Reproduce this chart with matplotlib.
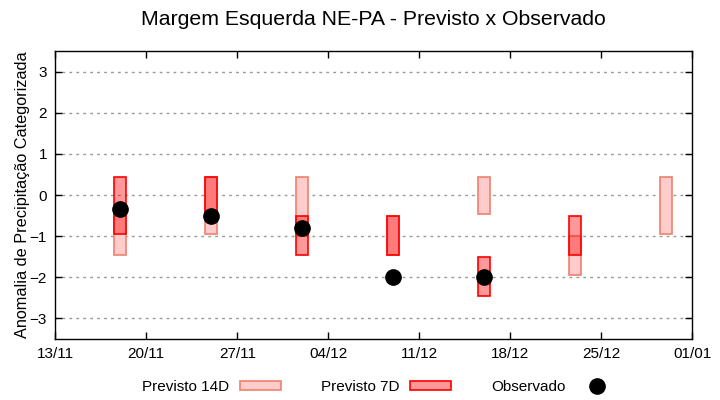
import matplotlib
matplotlib.use("Agg")
import matplotlib.pyplot as plt
import matplotlib.dates as mdates
from datetime import datetime

plt.rcParams['font.family'] = ['Liberation Sans', 'DejaVu Sans']

dates = ["2023-11-18", "2023-11-25", "2023-12-02", "2023-12-09",
         "2023-12-16", "2023-12-23", "2023-12-30"]
prev14_low = [-1.45, -0.95, -1.0, -1.45, -0.45, -1.95, -0.95]
prev14_high = [-0.5, 0.45, 0.45, -0.5, 0.45, -1.0, 0.45]
prev7_low = [-0.95, -0.5, -1.45, -1.45, -2.45, -1.45, None]
prev7_high = [0.45, 0.45, -0.5, -0.5, -1.5, -0.5, None]
obs = [-0.35, -0.5, -0.8, -2.0, -2.0, None, None]
tick_dates = ["2023-11-13", "2023-11-20", "2023-11-27", "2023-12-04",
              "2023-12-11", "2023-12-18", "2023-12-25", "2024-01-01"]
tick_labels = ["13/11", "20/11", "27/11", "04/12", "11/12", "18/12", "25/12", "01/01"]

x = [mdates.date2num(datetime.strptime(d, "%Y-%m-%d")) for d in dates]
xt = [mdates.date2num(datetime.strptime(d, "%Y-%m-%d")) for d in tick_dates]

fig = plt.figure(figsize=(7.2, 4.0), dpi=100)
ax = fig.add_axes([0.0768, 0.1525, 0.8847, 0.7195])

w = 0.92
b14 = ax.bar(x, [h - l for h, l in zip(prev14_high, prev14_low)], bottom=prev14_low,
             width=w, facecolor='#ffcccc', edgecolor='#f08070', linewidth=1.2,
             label='Previsto 14D', zorder=2)
x7 = [xi for xi, v in zip(x, prev7_low) if v is not None]
l7 = [v for v in prev7_low if v is not None]
h7 = [v for v in prev7_high if v is not None]
b7 = ax.bar(x7, [h - l for h, l in zip(h7, l7)], bottom=l7, width=w,
            facecolor=(1, 0, 0, 0.4), edgecolor='red', linewidth=1.2,
            label='Previsto 7D', zorder=3)
xo = [xi for xi, v in zip(x, obs) if v is not None]
yo = [v for v in obs if v is not None]
po, = ax.plot(xo, yo, 'o', color='black', markersize=11, linestyle='none',
              label='Observado', zorder=4)

ax.set_xlim(xt[0], xt[-1])
ax.set_ylim(-3.5, 3.5)
ax.set_xticks(xt)
ax.set_xticklabels(tick_labels)
ax.set_yticks([-3, -2, -1, 0, 1, 2, 3])
ax.tick_params(direction='in', top=True, right=True, length=5, width=1,
               labelsize=11, colors='black', pad=6)
ax.tick_params(axis='x', labeltop=False)
ax.yaxis.grid(True, linestyle=(0, (2, 3)), color='#999999', linewidth=1)
ax.set_axisbelow(True)
for s in ax.spines.values():
    s.set_linewidth(1)

ax.set_ylabel('Anomalia de Precipitação Categorizada', fontsize=11.7, labelpad=0)
fig.suptitle('Margem Esquerda NE-PA - Previsto x Observado', fontsize=15.3,
             x=0.518, y=0.975)

fig.legend([b14, b7, po], ['Previsto 14D', 'Previsto 7D', 'Observado'],
           loc='lower center', bbox_to_anchor=(0.5275, -0.02), ncol=3,
           frameon=False, markerfirst=False, fontsize=11,
           handlelength=2.7, handleheight=0.5, columnspacing=2.62,
           handletextpad=0.7)

fig.savefig('out.png', dpi=100)
